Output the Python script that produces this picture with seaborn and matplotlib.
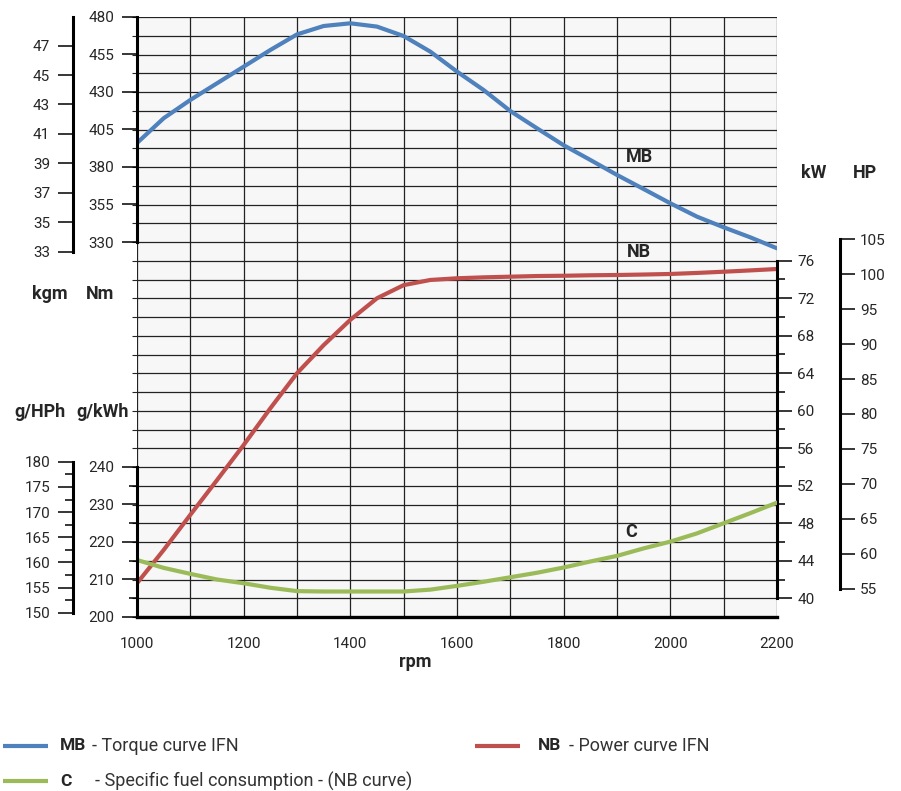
import matplotlib

matplotlib.use("Agg")

import matplotlib.pyplot as plt
import numpy as np
import seaborn as sns
from matplotlib.lines import Line2D

# engine speed (rpm) and curves
rpm = [1000, 1050, 1100, 1150, 1200, 1250, 1300, 1350, 1400, 1450, 1500, 1550, 1600,
       1650, 1700, 1750, 1800, 1850, 1900, 1950, 2000, 2050, 2100, 2150, 2200]
torque_nm = [396.0, 412.5, 424.7, 435.8, 446.9, 458.0, 468.4, 474.0, 475.8, 473.6, 467.3,
             456.9, 443.6, 431.3, 417.3, 405.8, 394.5, 384.7, 374.7, 365.3, 355.8, 346.9,
             339.8, 333.1, 325.8]
power_kw = [41.6, 45.15, 48.9, 52.6, 56.35, 60.26, 64.0, 67.0, 69.7, 72.0, 73.4, 73.95,
            74.13, 74.23, 74.3, 74.37, 74.4, 74.45, 74.48, 74.53, 74.59, 74.7, 74.83,
            74.97, 75.12]
fuel_gkwh = [215.2, 213.1, 211.5, 210.0, 209.0, 207.8, 206.9, 206.8, 206.8, 206.8, 206.8,
             207.3, 208.3, 209.4, 210.6, 211.8, 213.2, 214.8, 216.3, 218.3, 220.1, 222.3,
             225.0, 227.7, 230.5]

# unit conversions for the secondary scales
NM_PER_KGM = 9.80665
KW_PER_HP = 0.7457

BLUE = "#4f81bd"
RED = "#c0504d"
GREEN = "#9bbb59"
W, H = 901, 791

sns.set_style("white")
plt.rcParams["font.family"] = ["Roboto", "DejaVu Sans"]

fig = plt.figure(figsize=(W / 100, H / 100), dpi=100)
ax = fig.add_axes([137 / W, 1 - 617 / H, 640 / W, 600 / H])
ax.set_facecolor("#f7f7f7")
ax.set_xlim(1000, 2200)
ax.set_ylim(38, 102)
ax.set_xticks(range(1000, 2201, 200))
ax.set_xticks(range(1100, 2200, 200), minor=True)
ax.set_yticks(np.arange(38, 103, 2))
ax.grid(axis="x", which="both", color="#222222", linewidth=0.9)
ax.grid(axis="y", which="major", color="#222222", linewidth=0.9)
ax.tick_params(axis="y", left=False, right=False, labelleft=False)
ax.tick_params(axis="x", which="both", length=5, width=1, direction="out",
               color="black", labelsize=11, pad=9.5)
for side in ("left", "right", "top"):
    ax.spines[side].set_visible(False)
ax.spines["bottom"].set_linewidth(2.4)
ax.spines["bottom"].set_color("black")
ax.text(0.434, -0.075, "rpm", transform=ax.transAxes, ha="center", va="center",
        fontsize=13, fontweight="bold")


def scale_axis(side, offset_px, lim, bounds, major, minor=None):
    tw = ax.twinx()
    for sp in tw.spines.values():
        sp.set_visible(False)
    sp = tw.spines[side]
    sp.set_visible(True)
    sp.set_color("black")
    sp.set_linewidth(2.2)
    sp.set_position(("outward", offset_px * 0.72))
    sp.set_bounds(*bounds)
    tw.set_ylim(*lim)
    tw.yaxis.set_ticks_position(side)
    tw.yaxis.set_label_position(side)
    tw.set_yticks(major)
    if minor is not None:
        tw.set_yticks(minor, minor=True)
    pad = 5.5 if side == "left" else 3.5
    tw.tick_params(axis="y", which="major", length=11, width=1.1, direction="out",
                   color="black", labelsize=11, pad=pad)
    tw.tick_params(axis="y", which="minor", length=5.5, width=1.1, direction="out",
                   color="black")
    return tw


ax_kw = scale_axis("right", 0, (38, 102), (40, 76), range(40, 77, 4), range(42, 75, 4))
scale_axis("right", 63, (38 / KW_PER_HP, 102 / KW_PER_HP), (55, 105), range(55, 106, 5))
ax_nm = scale_axis("left", 0, (80, 480), (330, 480), range(330, 481, 25))
scale_axis("left", 64, (80 / NM_PER_KGM, 480 / NM_PER_KGM), (33, 480 / NM_PER_KGM),
           range(33, 48, 2))
ax_fuel = scale_axis("left", 0, (200, 360), (200, 240), range(200, 241, 10),
                     range(205, 240, 10))
scale_axis("left", 64, (200 * KW_PER_HP, 360 * KW_PER_HP), (150, 180), range(150, 181, 5),
           np.arange(152.5, 180, 5))

sns.lineplot(x=rpm, y=torque_nm, ax=ax_nm, color=BLUE, linewidth=3)
sns.lineplot(x=rpm, y=power_kw, ax=ax_kw, color=RED, linewidth=3)
sns.lineplot(x=rpm, y=fuel_gkwh, ax=ax_fuel, color=GREEN, linewidth=3)
for a in (ax_nm, ax_kw, ax_fuel):
    a.set_xlabel("")
    a.set_ylabel("")
    for line in a.get_lines():
        line.set_solid_joinstyle("round")
ax.set_xlim(1000, 2200)

ax_nm.text(1942, 386.5, "MB", ha="center", va="center", fontsize=13, fontweight="bold")
ax_kw.text(1941, 76.9, "NB", ha="center", va="center", fontsize=13, fontweight="bold")
ax_fuel.text(1926, 222.7, "C", ha="center", va="center", fontsize=13, fontweight="bold")

# unit captions
def caption(x, y, s, ha="center"):
    fig.text(x / W, 1 - y / H, s, ha=ha, va="center", fontsize=13, fontweight="bold")


caption(50, 294, "kgm")
caption(100, 294, "Nm")
caption(40, 412, "g/HPh")
caption(103, 412, "g/kWh")
caption(814, 173, "kW")
caption(865, 173, "HP")

# legend below the chart
legend_rows = [
    (3, 746, BLUE, "MB", 92, "- Torque curve IFN"),
    (475, 746, RED, "NB", 569, "- Power curve IFN"),
    (3, 781, GREEN, "C", 95, "- Specific fuel consumption - (NB curve)"),
]
for x0, y0, color, key, x_desc, desc in legend_rows:
    fig.add_artist(Line2D([x0 / W, (x0 + 45) / W], [1 - y0 / H] * 2, color=color,
                          linewidth=3, solid_capstyle="butt"))
    fig.text((x0 + 57 if x0 < 400 else x0 + 63) / W, 1 - y0 / H, key, ha="left",
             va="center", fontsize=12.5, fontweight="bold")
    fig.text(x_desc / W, 1 - y0 / H, desc, ha="left", va="center", fontsize=13,
             color="#333333")

fig.savefig("out.png", dpi=100)
